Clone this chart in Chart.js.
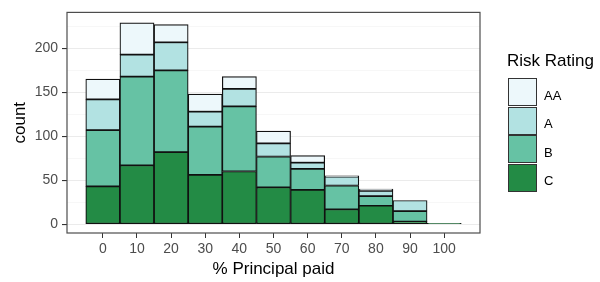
<!DOCTYPE html>
<html>
<head>
<meta charset="utf-8">
<script src="https://cdn.jsdelivr.net/npm/chart.js@4"></script>
<style>
  body { margin: 0; background: #fff; }
  #wrap { position: relative; width: 600px; height: 282px; font-family: 'Liberation Sans', Arial, sans-serif; }
  #legend div { position: absolute; white-space: nowrap; }
</style>
</head>
<body>
<div id="wrap">
  <canvas id="myChart" width="600" height="282"></canvas>
  <div id="legend"></div>
</div>
<script>
// bins of % principal paid (bin centres, width 10)
const bins = [0, 10, 20, 30, 40, 50, 60, 70, 80, 90, 100];
// counts per risk rating, stacked C (bottom) -> AA (top)
const countC  = [43, 67, 82, 56, 60, 42, 39, 17, 21, 3, 1];
const countB  = [64, 101, 93, 55, 74, 35, 24, 27, 11, 12, 0];
const countA  = [35, 25, 32, 17, 20, 15, 7, 10, 6, 12, 0];
const countAA = [23, 36, 20, 20, 14, 14, 8, 1, 2, 0, 0];

const ratings = ['C', 'B', 'A', 'AA'];
const colours = ['#238b45', '#66c2a4', '#b2e2e2', '#edf8fb'];
const series = [countC, countB, countA, countAA];

const xTicks = [0, 10, 20, 30, 40, 50, 60, 70, 80, 90, 100];
const yTicks = [0, 25, 50, 75, 100, 125, 150, 175, 200, 225];

const FONT = "'Liberation Sans', Arial, sans-serif";

// panel border like ggplot theme_bw
const panelBorder = {
    id: 'panelBorder',
    afterDatasetsDraw(chart) {
        const { ctx, chartArea: a } = chart;
        ctx.save();
        ctx.strokeStyle = '#4d4d4d';
        ctx.lineWidth = 1.2;
        ctx.strokeRect(a.left, a.top, a.right - a.left, a.bottom - a.top);
        ctx.restore();
    }
};

const isMajor = (ctx) => ctx.tick && ctx.tick.value % 50 === 0;

function makeChart() {
    const ctx = document.getElementById('myChart').getContext('2d');
    const datasets = ratings.map((r, i) => ({
        label: r,
        data: bins.map((b, j) => ({ x: b, y: series[i][j] })),
        backgroundColor: colours[i],
        borderColor: '#111',
        borderWidth: 1.2,
        borderSkipped: false,
        barPercentage: 1,
        categoryPercentage: 1
    }));

    const chart = new Chart(ctx, {
        type: 'bar',
        data: { datasets: datasets },
        plugins: [panelBorder],
        options: {
            responsive: false,
            animation: false,
            layout: { padding: { top: 9, right: 120, left: 0, bottom: 0 } },
            plugins: {
                legend: { display: false },
                tooltip: { enabled: false }
            },
            scales: {
                x: {
                    type: 'linear',
                    stacked: true,
                    offset: false,
                    min: -10.5,
                    max: 110.5,
                    afterBuildTicks: (scale) => { scale.ticks = xTicks.map(v => ({ value: v })); },
                    afterFit: (scale) => { scale.height = 49; },
                    grid: { offset: false, drawOnChartArea: false, drawTicks: true, tickLength: 5, tickColor: '#333', tickWidth: 1 },
                    border: { display: false },
                    ticks: { padding: 3, color: '#4d4d4d', font: { family: FONT, size: 14 }, maxRotation: 0 },
                    title: {
                        display: true,
                        text: '% Principal paid',
                        color: '#000',
                        font: { family: FONT, size: 17 },
                        padding: { top: 0, bottom: 2 }
                    }
                },
                y: {
                    stacked: true,
                    min: -10,
                    max: 241,
                    afterBuildTicks: (scale) => { scale.ticks = yTicks.map(v => ({ value: v })); },
                    afterFit: (scale) => { scale.width = 67; },
                    grid: {
                        color: (c) => isMajor(c) ? '#ebebeb' : '#f5f5f5',
                        lineWidth: (c) => isMajor(c) ? 1.1 : 0.8,
                        tickColor: (c) => isMajor(c) ? '#333' : 'rgba(0,0,0,0)',
                        tickLength: 5
                    },
                    border: { display: false },
                    ticks: {
                        padding: 4,
                        color: '#4d4d4d',
                        font: { family: FONT, size: 14 },
                        callback: (v) => v % 50 === 0 ? v : ''
                    },
                    title: {
                        display: true,
                        text: 'count',
                        color: '#000',
                        font: { family: FONT, size: 17 },
                        padding: { top: 10.5, bottom: 0 }
                    }
                }
            }
        }
    });
    return chart;
}

function makeLegend(chart) {
    const legendEl = document.getElementById('legend');
    const title = document.createElement('div');
    title.textContent = 'Risk Rating';
    title.style.left = '507px';
    title.style.top = '52px';
    title.style.fontSize = '17px';
    title.style.lineHeight = '17px';
    title.style.color = '#000';
    legendEl.appendChild(title);

    // AA on top, C at the bottom, like the stacking
    const items = chart.data.datasets.slice().reverse();
    items.forEach((ds, i) => {
        const top = 78 + i * 28.5;
        const key = document.createElement('div');
        key.style.left = '507.5px';
        key.style.top = top + 'px';
        key.style.width = '29px';
        key.style.height = '28px';
        key.style.boxSizing = 'border-box';
        key.style.border = '1px solid #333';
        key.style.background = ds.backgroundColor;
        legendEl.appendChild(key);

        const lab = document.createElement('div');
        lab.textContent = ds.label;
        lab.style.left = '544px';
        lab.style.top = (top + 10.5) + 'px';
        lab.style.fontSize = '13px';
        lab.style.lineHeight = '13px';
        lab.style.color = '#000';
        legendEl.appendChild(lab);
    });
}

try {
    const chart = makeChart();
    makeLegend(chart);
} catch (e) {
    console.log(e);
}
</script>
</body>
</html>
